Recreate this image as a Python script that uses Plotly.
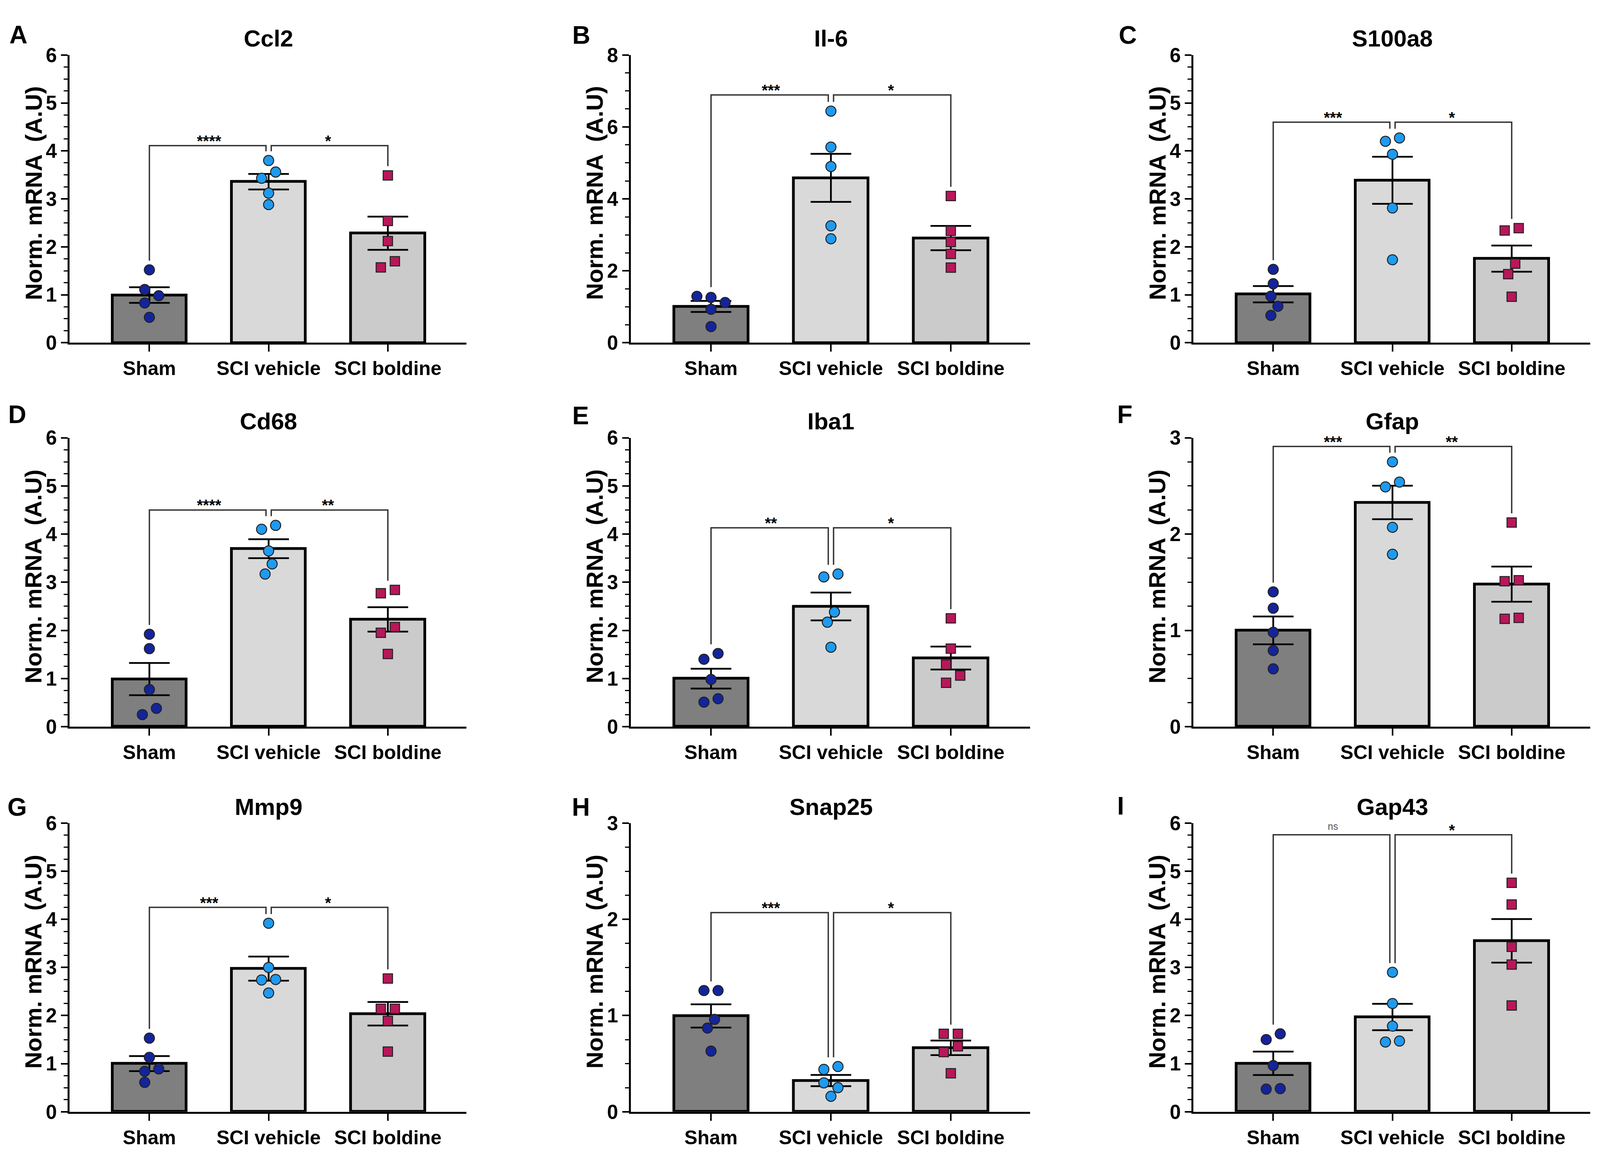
import numpy as np
import plotly.graph_objects as go

W, H = 4328, 2959

groups = ["Sham", "SCI vehicle", "SCI boldine"]
genes = ["Ccl2", "Il-6", "S100a8", "Cd68", "Iba1", "Gfap", "Mmp9", "Snap25", "Gap43"]
letters = ["A", "B", "C", "D", "E", "F", "G", "H", "I"]
y_max = [6, 8, 6, 6, 6, 3, 6, 3, 6]
y_dtick = [1, 2, 1, 1, 1, 1, 1, 1, 1]

# individual animals
sham_vals = [
    [1.52, 1.11, 0.98, 0.83, 0.53],
    [1.29, 1.26, 1.12, 0.93, 0.45],
    [1.53, 1.23, 0.97, 0.76, 0.57],
    [1.92, 1.62, 0.77, 0.38, 0.25],
    [1.52, 1.40, 0.98, 0.58, 0.51],
    [1.40, 1.23, 0.98, 0.79, 0.60],
    [1.53, 1.13, 0.89, 0.84, 0.61],
    [1.26, 1.26, 0.96, 0.87, 0.63],
    [1.62, 1.50, 0.96, 0.48, 0.47],
]
vehicle_vals = [
    [3.80, 3.56, 3.43, 3.12, 2.88],
    [6.44, 5.44, 4.90, 3.25, 2.89],
    [4.27, 4.20, 3.93, 2.81, 1.73],
    [4.18, 4.10, 3.65, 3.38, 3.17],
    [3.17, 3.11, 2.38, 2.17, 1.65],
    [2.75, 2.54, 2.49, 2.07, 1.79],
    [3.92, 3.00, 2.75, 2.74, 2.47],
    [0.47, 0.44, 0.30, 0.25, 0.16],
    [2.90, 2.25, 1.78, 1.47, 1.45],
]
boldine_vals = [
    [3.49, 2.54, 2.12, 1.70, 1.57],
    [4.08, 3.11, 2.80, 2.47, 2.09],
    [2.39, 2.34, 1.65, 1.43, 0.96],
    [2.84, 2.77, 2.07, 1.95, 1.51],
    [2.25, 1.62, 1.29, 1.06, 0.91],
    [2.12, 1.52, 1.51, 1.13, 1.12],
    [2.77, 2.14, 2.14, 1.89, 1.25],
    [0.81, 0.81, 0.68, 0.62, 0.40],
    [4.76, 4.31, 3.43, 3.06, 2.21],
]
sig_left = ["****", "***", "***", "****", "**", "***", "***", "***", "ns"]
sig_right = ["*", "*", "*", "**", "*", "**", "*", "*", "*"]
bracket_y = [4.11, 6.89, 4.60, 4.50, 4.13, 2.91, 4.25, 2.07, 5.76]

# layout, as pixels of the 4328x2959 page (turned into fractions below)
col_px = [(188, 1262), (1706, 2786), (3228, 4302)]
row_px = [(115, 866), (1114, 1868), (2120, 2873)]
letter_px = [(50, 62), (1572, 63), (3050, 63), (46, 1053), (1571, 1056),
             (3043, 1053), (46, 2078), (1571, 2078), (3032, 2075)]
x_range = [-0.67, 2.66]

bar_fill = ["#7f7f7f", "#d9d9d9", "#cbcbcb"]
pt_color = ["#14249a", "#1e9bf0", "#b8175a"]
pt_symbol = ["circle", "circle", "square"]
pt_size = [26, 26, 24]
FONT = "Liberation Sans, Arial, sans-serif"


def swarm(vals, ymax):
    # small beeswarm in pixel space, each cluster centred on the bar
    ppu_y = (row_px[0][1] - row_px[0][0]) / ymax
    ppu_x = (col_px[0][1] - col_px[0][0]) / (x_range[1] - x_range[0])
    order = np.argsort(vals)
    placed = {}
    cands = [0, 19, -19, 38, -38, 57, -57, 76, -76]
    for i in order:
        for c in cands:
            if all(np.hypot((vals[i] - vals[j]) * ppu_y, c - cx) >= 28
                   for j, cx in placed.items()):
                placed[i] = c
                break
    idx = sorted(placed, key=lambda k: vals[k])
    clusters, cur = [], [idx[0]]
    for a, b in zip(idx[:-1], idx[1:]):
        if (vals[b] - vals[a]) * ppu_y < 30:
            cur.append(b)
        else:
            clusters.append(cur)
            cur = [b]
    clusters.append(cur)
    off = np.zeros(len(vals))
    for cl in clusters:
        m = np.mean([placed[k] for k in cl])
        for k in cl:
            off[k] = (placed[k] - m) / ppu_x
    return off


fig = go.Figure()
annotations = []
layout_axes = {}

for p in range(9):
    r, c = divmod(p, 3)
    sfx = "" if p == 0 else str(p + 1)
    xa, ya = "x" + sfx, "y" + sfx
    data = [np.array(sham_vals[p]), np.array(vehicle_vals[p]), np.array(boldine_vals[p])]
    means = [d.mean() for d in data]
    sems = [d.std(ddof=1) / np.sqrt(len(d)) for d in data]
    ppu_y = (row_px[r][1] - row_px[r][0]) / y_max[p]

    fig.add_trace(go.Bar(
        x=[0, 1, 2], y=means, width=0.62,
        marker=dict(color=bar_fill, line=dict(color="black", width=7)),
        error_y=dict(type="data", array=sems, visible=True, color="black",
                     thickness=4.5, width=52),
        xaxis=xa, yaxis=ya, showlegend=False,
    ))

    for g in range(3):
        off = swarm(data[g], y_max[p])
        fig.add_trace(go.Scatter(
            x=g + off, y=data[g], mode="markers",
            marker=dict(symbol=pt_symbol[g], size=pt_size[g], color=pt_color[g],
                        line=dict(color="#222222", width=2.5)),
            xaxis=xa, yaxis=ya, showlegend=False,
        ))

    # significance brackets
    tops = [d.max() + 24 / ppu_y for d in data]
    B = bracket_y[p]
    gx = 0.022
    fig.add_trace(go.Scatter(
        x=[0, 0, 1 - gx, 1 - gx, None, 1 + gx, 1 + gx, 2, 2],
        y=[tops[0], B, B, tops[1], None, tops[1], B, B, tops[2]],
        mode="lines", line=dict(color="#333333", width=3.5),
        xaxis=xa, yaxis=ya, showlegend=False, hoverinfo="skip",
    ))
    for sx, txt in [(0.5, sig_left[p]), (1.5, sig_right[p])]:
        if txt == "ns":
            fnt = dict(family=FONT, size=25, color="#555555")
            ys = 22
        else:
            fnt = dict(family=FONT, size=40, color="black", weight="bold")
            ys = 12
        annotations.append(dict(
            x=sx, y=B, xref=xa, yref=ya, text=txt, showarrow=False,
            yanchor="middle", yshift=ys, font=fnt,
        ))

    x0, x1 = col_px[c]
    y0, y1 = row_px[r]
    layout_axes["xaxis" + sfx] = dict(
        domain=[x0 / W, x1 / W], anchor=ya, range=x_range,
        tickmode="array", tickvals=[0, 1, 2], ticktext=groups,
        showline=True, linecolor="black", linewidth=5,
        ticks="outside", ticklen=18, tickwidth=4, tickcolor="black",
        showgrid=False, zeroline=False, fixedrange=True,
        tickfont=dict(family=FONT, size=50, color="black", weight="bold"),
    )
    layout_axes["yaxis" + sfx] = dict(
        domain=[1 - y1 / H, 1 - y0 / H], anchor=xa, range=[0, y_max[p]],
        tick0=0, dtick=y_dtick[p],
        showline=True, linecolor="black", linewidth=5,
        ticks="outside", ticklen=17, tickwidth=4, tickcolor="black",
        minor=dict(ticks="outside", ticklen=10, tickwidth=3, tickcolor="black",
                   dtick=y_dtick[p] / 4),
        showgrid=False, zeroline=False, fixedrange=True,
        tickfont=dict(family=FONT, size=51, color="black", weight="bold"),
    )

    annotations.append(dict(
        x=0, y=0.52, xref=f"{xa} domain", yref=f"{ya} domain", xshift=-92,
        text="Norm. mRNA  (A.U)", textangle=-90, showarrow=False,
        xanchor="center", yanchor="middle",
        font=dict(family=FONT, size=60, color="black", weight="bold"),
    ))
    annotations.append(dict(
        x=1, y=1, xref=xa, yref=f"{ya} domain", yshift=42,
        text=genes[p], showarrow=False, xanchor="center", yanchor="middle",
        font=dict(family=FONT, size=60, color="black", weight="bold"),
    ))
    lx, ly = letter_px[p]
    annotations.append(dict(
        x=lx / W, y=1 - ly / H, xref="paper", yref="paper",
        text=letters[p], showarrow=False, xanchor="center", yanchor="middle",
        font=dict(family=FONT, size=64, color="black", weight="bold"),
    ))

fig.update_layout(
    autosize=True, margin=dict(l=0, r=0, t=0, b=0, pad=0),
    paper_bgcolor="white", plot_bgcolor="white",
    annotations=annotations, bargap=0, **layout_axes,
)

# fill the browser window exactly, without the default body margin
fit = ("document.body.style.margin='0';document.body.style.overflow='hidden';"
       "Plotly.Plots.resize(document.getElementById('{plot_id}'));")
fig.write_html("out.html", default_width="100vw", default_height="100vh",
               config={"responsive": True, "displayModeBar": False},
               post_script=fit)
